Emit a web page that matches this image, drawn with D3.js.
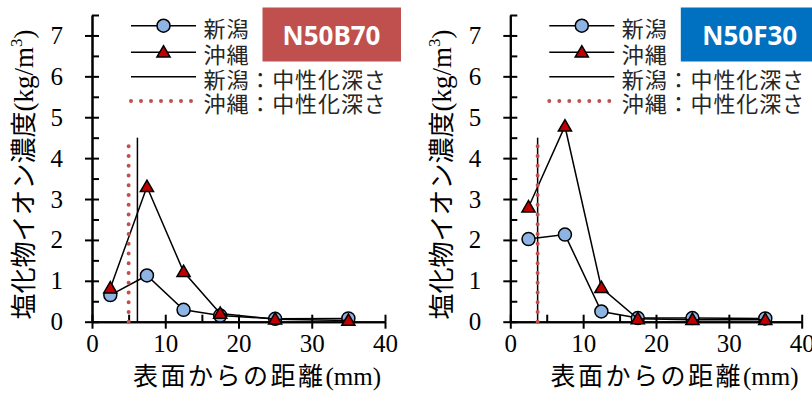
<!DOCTYPE html>
<html>
<head>
<meta charset="utf-8">
<script src="https://cdn.jsdelivr.net/npm/d3@7"></script>
<style>
  body { margin: 0; background: #fff; }
</style>
</head>
<body>
<svg width="812" height="396"></svg>
<script>
// depth from surface (mm)
const depths = [2.5, 7.5, 12.5, 17.5, 25, 35];

// chloride ion concentration (kg/m3)
const b70Niigata = [0.65, 1.13, 0.29, 0.15, 0.07, 0.08];
const b70Okinawa = [0.82, 3.30, 1.22, 0.20, 0.06, 0.03];
const f30Niigata = [2.02, 2.13, 0.25, 0.09, 0.09, 0.08];
const f30Okinawa = [2.80, 4.78, 0.83, 0.07, 0.05, 0.05];

// carbonation depth (mm) per panel [N50B70, N50F30]
const neutNiigata = [6.2, 3.75];
const neutOkinawa = [5.0, 3.75];
const neutTop = 4.5;

const panelNames = ["N50B70", "N50F30"];
const xMajor = [0, 10, 20, 30, 40];
const xMinor = [5, 15, 25, 35];
const yMajor = [0, 1, 2, 3, 4, 5, 6, 7];
const yMinor = [0.5, 1.5, 2.5, 3.5, 4.5, 5.5, 6.5, 7.5];
const legendLabels = ["新潟", "沖縄", "新潟：中性化深さ", "沖縄：中性化深さ"];

const svg = d3.select("svg");
const serif = "'Liberation Serif', 'Times New Roman', 'Noto Sans CJK JP', serif";
const cjk = "'Noto Sans CJK JP', 'Noto Sans', sans-serif";

const panels = [
  { niigata: b70Niigata, okinawa: b70Okinawa, box: "#C0504D", x0: 92, x1: 385 },
  { niigata: f30Niigata, okinawa: f30Okinawa, box: "#0070C0", x0: 510.3, x1: 801.7 }
];

const y = d3.scaleLinear().domain([0, 7.5]).range([321.7, 15]);
const tri = d3.symbol().type(d3.symbolTriangle).size(75);

panels.forEach((p, i) => {
  const x = d3.scaleLinear().domain([0, 40]).range([p.x0, p.x1]);
  const g = svg.append("g");

  // axes: major ticks cross the line, minor ticks point inward
  const styleAxis = sel => {
    sel.selectAll("path.domain").attr("stroke", "#000").attr("stroke-width", 2);
    sel.selectAll(".tick line").attr("stroke", "#000").attr("stroke-width", 2);
    sel.selectAll("text").style("font-family", serif).style("font-size", "25px").style("fill", "#000");
  };
  g.append("g").attr("transform", `translate(${p.x0},0)`)
    .call(d3.axisLeft(y).tickValues(yMajor).tickSize(7).tickSizeOuter(0).tickPadding(22))
    .call(styleAxis);
  g.append("g").attr("transform", `translate(${p.x0},0)`)
    .call(d3.axisRight(y).tickValues(yMajor.concat(yMinor)).tickSize(7).tickSizeOuter(0).tickFormat(""))
    .call(styleAxis);
  g.append("g").attr("transform", `translate(0,${y(0)})`)
    .call(d3.axisBottom(x).tickValues(xMajor).tickSize(7).tickSizeOuter(0).tickPadding(6))
    .call(styleAxis);
  g.append("g").attr("transform", `translate(0,${y(0)})`)
    .call(d3.axisTop(x).tickValues(xMajor.concat(xMinor)).tickSize(7).tickSizeOuter(0).tickFormat(""))
    .call(styleAxis);

  const line = d3.line().x((d, k) => x(depths[k])).y(d => y(d));

  // Niigata series
  g.append("path").datum(p.niigata).attr("d", line)
    .attr("fill", "none").attr("stroke", "#000").attr("stroke-width", 1.5);
  g.selectAll(".c").data(p.niigata).join("circle")
    .attr("cx", (d, k) => x(depths[k])).attr("cy", d => y(d)).attr("r", 6.5)
    .attr("fill", "#8DB4E2").attr("stroke", "#000").attr("stroke-width", 1.5);

  // Okinawa series
  g.append("path").datum(p.okinawa).attr("d", line)
    .attr("fill", "none").attr("stroke", "#000").attr("stroke-width", 1.5);
  g.selectAll(".t").data(p.okinawa).join("path")
    .attr("d", tri)
    .attr("transform", (d, k) => `translate(${x(depths[k])},${y(d) + 1})`)
    .attr("fill", "#C00000").attr("stroke", "#000").attr("stroke-width", 1.5);

  // carbonation depth lines
  g.append("line")
    .attr("x1", x(neutNiigata[i])).attr("x2", x(neutNiigata[i]))
    .attr("y1", y(0)).attr("y2", y(neutTop))
    .attr("stroke", "#000").attr("stroke-width", 1.5);
  g.append("line")
    .attr("x1", x(neutOkinawa[i])).attr("x2", x(neutOkinawa[i]))
    .attr("y1", y(0)).attr("y2", y(neutTop))
    .attr("stroke", "#C0504D").attr("stroke-width", 4)
    .attr("stroke-linecap", "round").attr("stroke-dasharray", "0 9.75");

  // legend
  const lx = p.x0 + 39, ly = [25.7, 52.3, 76.7, 101];
  ly.forEach((yy, k) => {
    const seg = g.append("line").attr("x1", lx).attr("x2", lx + 65).attr("y1", yy).attr("y2", yy);
    if (k < 3) seg.attr("stroke", "#000").attr("stroke-width", 1.5);
    else seg.attr("stroke", "#C0504D").attr("stroke-width", 4)
      .attr("stroke-linecap", "round").attr("stroke-dasharray", "0 10").attr("x2", lx + 61);
    if (k === 0) g.append("circle").attr("cx", lx + 32.5).attr("cy", yy).attr("r", 6.5)
      .attr("fill", "#8DB4E2").attr("stroke", "#000").attr("stroke-width", 1.5);
    if (k === 1) g.append("path").attr("d", tri).attr("transform", `translate(${lx + 32.5},${yy + 1})`)
      .attr("fill", "#C00000").attr("stroke", "#000").attr("stroke-width", 1.5);
    g.append("text").attr("x", lx + 72.5).attr("y", yy + 1)
      .attr("dominant-baseline", "central")
      .attr("font-family", cjk).attr("font-size", 22).attr("letter-spacing", 0.9)
      .attr("fill", "#262626")
      .text(legendLabels[k]);
  });

  // name box
  const bx = p.x0 + 170.5;
  g.append("rect").attr("x", bx).attr("y", 7.5).attr("width", 138.5).attr("height", 54)
    .attr("fill", p.box);
  g.append("text").attr("x", bx + 69).attr("y", 44.5).attr("text-anchor", "middle")
    .attr("font-family", "'Noto Sans', 'Open Sans', sans-serif").attr("font-weight", "bold")
    .attr("font-size", 26).attr("fill", "#fff").text(panelNames[i]);

  // axis titles
  g.append("text")
    .attr("transform", `translate(${p.x0 - 59},174.5) rotate(-90)`)
    .attr("text-anchor", "middle")
    .attr("font-family", serif).attr("font-size", 27).attr("fill", "#000")
    .call(t => {
      t.append("tspan").attr("font-family", cjk).attr("font-size", 26).text("塩化物イオン濃度");
      t.append("tspan").text("(kg/m");
      t.append("tspan").attr("font-size", 17).attr("dy", -11).text("3");
      t.append("tspan").attr("dy", 11).text(")");
    });
  g.append("text")
    .attr("x", (p.x0 + p.x1) / 2 + 18.5).attr("y", 385)
    .attr("text-anchor", "middle")
    .attr("font-family", serif).attr("font-size", 25).attr("fill", "#000")
    .call(t => {
      t.append("tspan").attr("font-family", cjk).attr("letter-spacing", 2.5).text("表面からの距離");
      t.append("tspan").attr("letter-spacing", 0).text("(mm)");
    });
});
</script>
</body>
</html>
